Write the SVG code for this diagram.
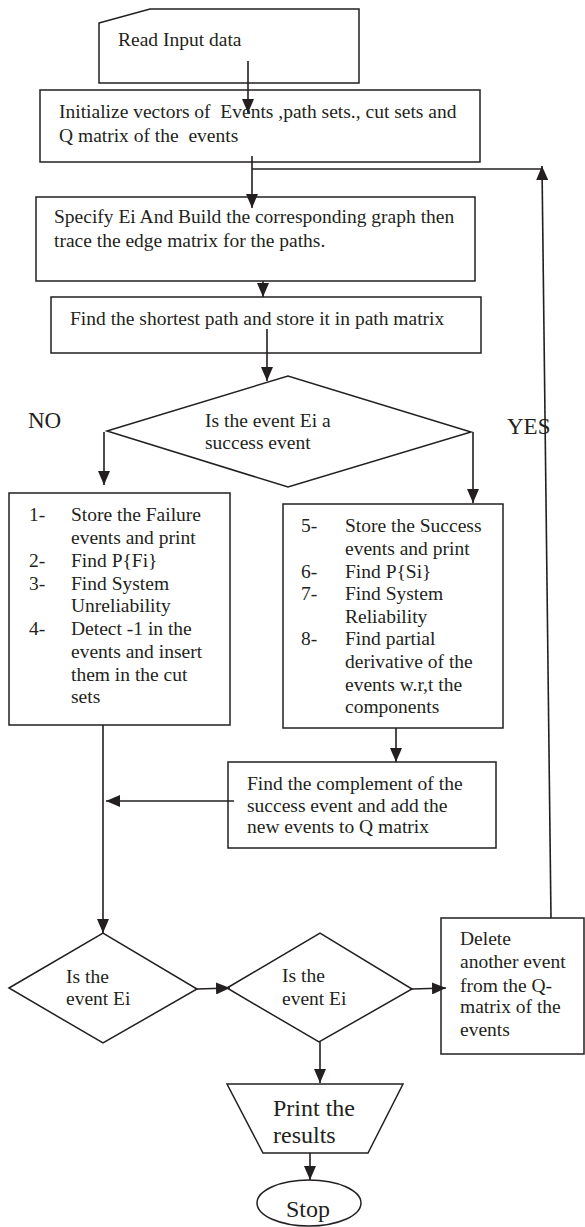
<svg xmlns="http://www.w3.org/2000/svg" width="585" height="1227" viewBox="0 0 585 1227">
<style>
.s{fill:#fff;stroke:#231f20;stroke-width:1.5}
.c{fill:none;stroke:#231f20;stroke-width:1.6}
text{font-family:"Liberation Serif","Times New Roman",serif;font-size:19.5px;fill:#231f20;white-space:pre}
.b{font-size:23px}
.p{font-size:24px}
</style>
<defs>
<marker id="ah" viewBox="0 0 14 12" refX="14" refY="6" markerWidth="14" markerHeight="12" markerUnits="userSpaceOnUse" orient="auto">
<path d="M0,0 L14,6 L0,12 z" fill="#231f20"/>
</marker>
</defs>
<rect width="585" height="1227" fill="#fff"/>
<g id="read">
<polygon class="s" points="99,23 150,9 359,9 359,83 99,83"/>
<text x="118" y="46">Read Input data</text>
</g>
<g id="init">
<rect class="s" x="40" y="90" width="440" height="72"/>
<text x="59" y="118" xml:space="preserve">Initialize vectors of  Events ,path sets., cut sets and</text>
<text x="59" y="142" xml:space="preserve">Q matrix of the  events</text>
</g>
<g id="specify">
<rect class="s" x="36" y="197" width="439" height="84"/>
<text x="54" y="223">Specify Ei And Build the corresponding graph then</text>
<text x="54" y="247">trace the edge matrix for the paths.</text>
</g>
<g id="shortest">
<rect class="s" x="51" y="297" width="430" height="56"/>
<text x="70" y="325">Find the shortest path and store it in path matrix</text>
</g>
<g id="decision">
<polygon class="s" points="107,431 288,376 471,432 288,487"/>
<text x="205" y="427">Is the event Ei a</text>
<text x="205" y="449">success event</text>
</g>
<g id="labels">
<text class="b" x="28" y="428">NO</text>
<text class="b" x="507" y="434">YES</text>
</g>
<g id="failure">
<rect class="s" x="9" y="493" width="221" height="232"/>
<text x="29" y="521">1-</text><text x="71" y="521">Store the Failure</text>
<text x="71" y="544">events and print</text>
<text x="29" y="567">2-</text><text x="71" y="567">Find P{Fi}</text>
<text x="29" y="590">3-</text><text x="71" y="590">Find System</text>
<text x="71" y="612">Unreliability</text>
<text x="29" y="635">4-</text><text x="71" y="635">Detect -1 in the</text>
<text x="71" y="658">events and insert</text>
<text x="71" y="681">them in the cut</text>
<text x="71" y="703">sets</text>
</g>
<g id="success">
<rect class="s" x="283" y="504" width="220" height="224"/>
<text x="301" y="532">5-</text><text x="345" y="532">Store the Success</text>
<text x="345" y="555">events and print</text>
<text x="301" y="578">6-</text><text x="345" y="578">Find P{Si}</text>
<text x="301" y="600">7-</text><text x="345" y="600">Find System</text>
<text x="345" y="623">Reliability</text>
<text x="301" y="645">8-</text><text x="345" y="645">Find partial</text>
<text x="345" y="668">derivative of the</text>
<text x="345" y="691">events w.r,t the</text>
<text x="345" y="713">components</text>
</g>
<g id="complement">
<rect class="s" x="228" y="762" width="268" height="86"/>
<text x="247" y="790">Find the complement of the</text>
<text x="247" y="812">success event and add the</text>
<text x="247" y="833">new events to Q matrix</text>
</g>
<g id="decisionA">
<polygon class="s" points="9,988 103,933 197,989 103,1043"/>
<text x="66" y="983">Is the</text>
<text x="66" y="1005">event Ei</text>
</g>
<g id="decisionB">
<polygon class="s" points="227,988 320,933 412,989 319,1042"/>
<text x="282" y="982">Is the</text>
<text x="282" y="1005">event Ei</text>
</g>
<g id="delete">
<rect class="s" x="441" y="918" width="143" height="136"/>
<text x="460" y="945">Delete</text>
<text x="460" y="968">another event</text>
<text x="460" y="992">from the Q-</text>
<text x="460" y="1013">matrix of the</text>
<text x="460" y="1036">events</text>
</g>
<g id="print">
<polygon class="s" points="227,1084 403,1084 368,1153 263,1153"/>
<text class="p" x="273" y="1116">Print the</text>
<text class="p" x="273" y="1143">results</text>
</g>
<g id="stop">
<ellipse class="s" cx="309" cy="1203" rx="52" ry="23"/>
<text class="p" x="286" y="1217">Stop</text>
</g>
<g id="connectors">
<path class="c" d="M248,61 L248,113" marker-end="url(#ah)"/>
<path class="c" d="M252,156 L252,208" marker-end="url(#ah)"/>
<path class="c" d="M252,169 L542,169"/>
<path class="c" d="M551,918 L542,166" marker-end="url(#ah)"/>
<path class="c" d="M263,281 L263,297" marker-end="url(#ah)"/>
<path class="c" d="M267,329 L267,381" marker-end="url(#ah)"/>
<path class="c" d="M104,432 L104,485" marker-end="url(#ah)"/>
<path class="c" d="M473,432 L473,503" marker-end="url(#ah)"/>
<path class="c" d="M103,725 L103,933" marker-end="url(#ah)"/>
<path class="c" d="M396,728 L396,762" marker-end="url(#ah)"/>
<path class="c" d="M234,801 L106,801" marker-end="url(#ah)"/>
<path class="c" d="M197,989 L230,988" marker-end="url(#ah)"/>
<path class="c" d="M412,989 L446,988" marker-end="url(#ah)"/>
<path class="c" d="M320,1042 L320,1083" marker-end="url(#ah)"/>
<path class="c" d="M310,1153 L310,1180" marker-end="url(#ah)"/>
</g>
</svg>
